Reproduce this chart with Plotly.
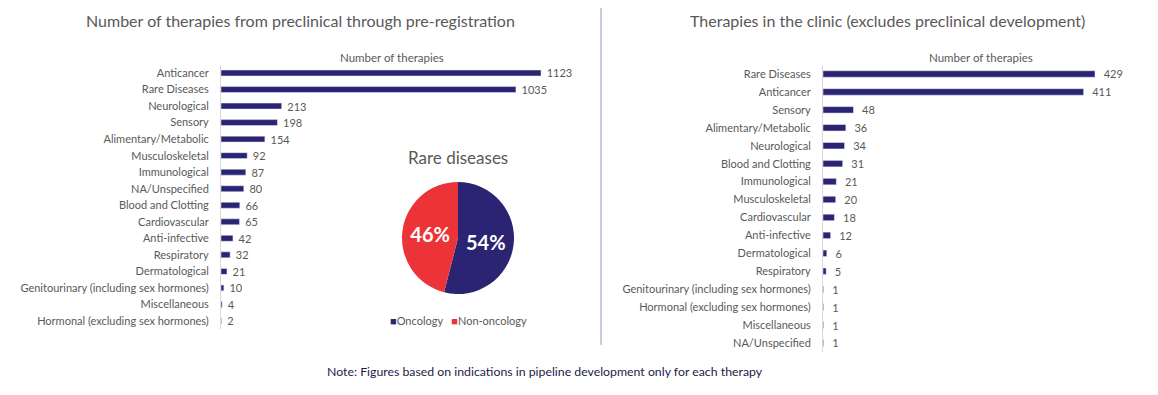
import plotly.graph_objects as go

W, H = 1158, 395

left_categories = ["Anticancer", "Rare Diseases", "Neurological", "Sensory", "Alimentary/Metabolic",
                   "Musculoskeletal", "Immunological", "NA/Unspecified", "Blood and Clotting",
                   "Cardiovascular", "Anti-infective", "Respiratory", "Dermatological",
                   "Genitourinary (including sex hormones)", "Miscellaneous",
                   "Hormonal (excluding sex hormones)"]
left_values = [1123, 1035, 213, 198, 154, 92, 87, 80, 66, 65, 42, 32, 21, 10, 4, 2]

right_categories = ["Rare Diseases", "Anticancer", "Sensory", "Alimentary/Metabolic", "Neurological",
                    "Blood and Clotting", "Immunological", "Musculoskeletal", "Cardiovascular",
                    "Anti-infective", "Dermatological", "Respiratory",
                    "Genitourinary (including sex hormones)", "Hormonal (excluding sex hormones)",
                    "Miscellaneous", "NA/Unspecified"]
right_values = [429, 411, 48, 36, 34, 31, 21, 20, 18, 12, 6, 5, 1, 1, 1, 1]

pie_labels = ["Oncology", "Non-oncology"]
pie_values = [54, 46]

NAVY = "#2b2473"
RED = "#ec3338"
GREY = "#595959"
FONT = "Lato"
pie_colors = [NAVY, RED]

def px(x):
    return x / W

def py(y):
    return 1 - y / H

fig = go.Figure()

fig.add_trace(go.Bar(
    x=left_values, y=left_categories, orientation="h",
    marker_color=NAVY, text=[f"  {v}" for v in left_values], textposition="outside",
    constraintext="none",
    textfont=dict(size=11, color=GREY, family=FONT), cliponaxis=False,
    xaxis="x", yaxis="y", showlegend=False, hoverinfo="x+y"))

fig.add_trace(go.Bar(
    x=right_values, y=right_categories, orientation="h",
    marker_color=NAVY, text=[f"  {v}" for v in right_values], textposition="outside",
    constraintext="none",
    textfont=dict(size=11, color=GREY, family=FONT), cliponaxis=False,
    xaxis="x2", yaxis="y2", showlegend=False, hoverinfo="x+y"))

pie_cx, pie_cy, pie_r = 458, 238, 56
fig.add_trace(go.Pie(
    labels=pie_labels, values=pie_values, sort=False, direction="clockwise", rotation=0,
    marker=dict(colors=pie_colors, line=dict(width=0)),
    textinfo="percent", texttemplate="<b>%{percent:.0%}</b>", textposition="inside",
    insidetextfont=dict(size=20, color="white", family=FONT),
    domain=dict(x=[px(pie_cx - pie_r), px(pie_cx + pie_r)],
                y=[py(pie_cy + pie_r), py(pie_cy - pie_r)]),
    showlegend=False))

# left axes
l0, l1123 = 221, 541
lscale = (l1123 - l0) / max(left_values)
lright = 570
fig.update_layout(
    xaxis=dict(domain=[px(l0), px(lright)], range=[0, (lright - l0) / lscale],
               visible=False, fixedrange=True),
    yaxis=dict(domain=[py(73 + 8.27 + 15 * 16.53), py(73 - 8.27)], autorange="reversed",
               showgrid=False, showline=True, linecolor="#d9d9d9", linewidth=1,
               ticks="", ticklabelstandoff=9,
               tickfont=dict(size=11, color=GREY, family=FONT), anchor="x"),
)
r0, r429 = 823, 1095
rscale = (r429 - r0) / max(right_values)
rright = 1140
fig.update_layout(
    xaxis2=dict(domain=[px(r0), px(rright)], range=[0, (rright - r0) / rscale],
                visible=False, fixedrange=True, anchor="y2"),
    yaxis2=dict(domain=[py(74 + 8.97 + 15 * 17.93), py(74 - 8.97)], autorange="reversed",
                showgrid=False, showline=True, linecolor="#d9d9d9", linewidth=1,
                ticks="", ticklabelstandoff=9,
                tickfont=dict(size=11, color=GREY, family=FONT), anchor="x2"),
)

legend_text = "   ".join(
    f"<span style='color:{c}'>■</span>{lab}" for lab, c in zip(pie_labels, pie_colors))

def ann(text, x, y, size, color=GREY):
    return dict(text=text, x=px(x), y=py(y), xref="paper", yref="paper", showarrow=False,
                xanchor="center", yanchor="middle",
                font=dict(size=size, color=color, family=FONT))

fig.update_layout(
    width=W, height=H, margin=dict(l=0, r=0, t=0, b=0),
    paper_bgcolor="white", plot_bgcolor="white",
    bargap=0.64,
    font=dict(family=FONT, color=GREY),
    showlegend=False,
    shapes=[dict(type="line", xref="paper", yref="paper", x0=px(601), x1=px(601),
                 y0=py(8), y1=py(345), line=dict(color="#b8b8da", width=1.5))],
    annotations=[
        ann("Number of therapies from preclinical through pre-registration", 300, 20, 16),
        ann("Therapies in the clinic (excludes preclinical development)", 888, 20, 16),
        ann("Number of therapies", 392, 57, 11.5),
        ann("Number of therapies", 981, 57, 11.5),
        ann("Rare diseases", pie_cx, 157, 17),
        ann(legend_text, pie_cx, 320, 11),
        ann("Note: Figures based on indications in pipeline development only for each therapy",
            545, 371, 12.3, "#1c1c4a"),
    ],
)
fig.update_yaxes(categoryorder="array")
fig.layout.yaxis.categoryarray = left_categories
fig.layout.yaxis2.categoryarray = right_categories

fig.write_html("out.html", config={"displayModeBar": False},
               post_script="document.body.style.margin='0';")
